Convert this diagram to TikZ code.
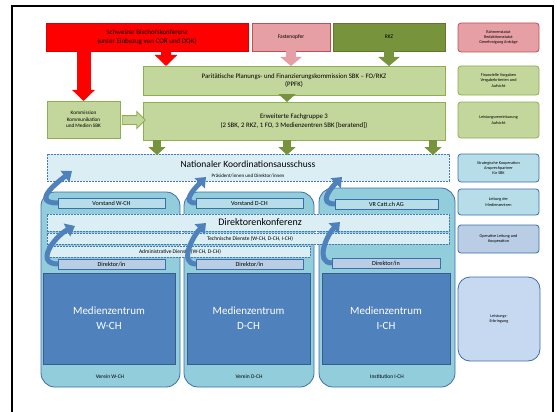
\documentclass[tikz,border=0pt]{standalone}
\usepackage{fontspec}
\setmainfont{Carlito}
\usetikzlibrary{arrows.meta,shapes.arrows}

\definecolor{sbkRed}{RGB}{255,0,0}
\definecolor{foPink}{RGB}{230,160,165}
\definecolor{foPinkLine}{RGB}{190,80,85}
\definecolor{rkzGreen}{RGB}{119,147,60}
\definecolor{paleGreen}{RGB}{195,214,155}
\definecolor{paleGreenLine}{RGB}{140,175,80}
\definecolor{bandBlue}{RGB}{219,238,244}
\definecolor{bandLine}{RGB}{70,120,185}
\definecolor{shellBlue}{RGB}{146,205,220}
\definecolor{shellLine}{RGB}{60,110,170}
\definecolor{boardBlue}{RGB}{183,222,232}
\definecolor{chiefBlue}{RGB}{185,205,229}
\definecolor{medBlue}{RGB}{79,129,189}
\definecolor{medLine}{RGB}{56,93,138}
\definecolor{softBlue}{RGB}{198,217,241}

\tikzstyle{orgChart} = [x = 1pt, y = -1pt, every node/.style={inner sep=0pt, outer sep=0pt, align=center}]
\tikzstyle{redBox} = [fill=sbkRed, draw=sbkRed!85!black, font=\fontsize{7}{9}\selectfont]
\tikzstyle{pinkBox} = [fill=foPink, draw=foPinkLine, font=\fontsize{5.5}{6.5}\selectfont]
\tikzstyle{darkGreenBox} = [fill=rkzGreen, draw=rkzGreen!80!black, font=\fontsize{5.5}{6.5}\selectfont]
\tikzstyle{greenBox} = [fill=paleGreen, draw=paleGreenLine, font=\fontsize{6.8}{8.5}\selectfont]
\tikzstyle{sideBox} = [rounded corners=3pt, thick, font=\fontsize{4.2}{5.4}\selectfont]
\tikzstyle{bandBox} = [fill=bandBlue, draw=bandLine, dash pattern=on 2pt off 1pt, line width=.8pt]
\tikzstyle{shellBox} = [fill=shellBlue, draw=shellLine, rounded corners=14pt, thick]
\tikzstyle{boardBox} = [fill=boardBlue, draw=shellLine, font=\fontsize{6.2}{7}\selectfont]
\tikzstyle{chiefBox} = [fill=chiefBlue, draw=shellLine, font=\fontsize{6.2}{7}\selectfont]
\tikzstyle{centreBox} = [fill=medBlue, draw=medLine, text=white, font=\fontsize{11}{15}\selectfont]
\tikzstyle{redArrow} = [draw=sbkRed, -{Triangle[width=22pt, length=11pt]}]
\tikzstyle{pinkArrow} = [draw=foPink, line width=10pt, -{Triangle[width=21pt, length=9pt]}]
\tikzstyle{greenArrow} = [draw=rkzGreen, line width=8pt, -{Triangle[width=17pt, length=8pt]}]
\tikzstyle{loopArrow} = [draw=medBlue, line width=5pt, -{Triangle[width=14pt, length=9pt]}]

\newcommand{\orgBox}[7]{\node [#1, minimum width={#4-#2}, minimum height={#5-#3}] (#6) at ({(#2+#4)/2}, {(#3+#5)/2}) {#7};}
\newcommand{\orgText}[4]{\node [font=\fontsize{#2}{#2}\selectfont] (#1) at (#3) {#4};}

\begin{document}
\begin{tikzpicture}[orgChart]
  \useasboundingbox (0,0) rectangle (557,412);
  \draw [line width=1.3pt] (12,412) -- (12,6) -- (553,6) -- (553,412);

  % top row
  \orgBox{redBox}{46}{23}{248}{51}{sbk}{Schweizer Bischofskonferenz\\(unter Einbezug von COR und DOK)}
  \orgBox{pinkBox}{252}{23}{330}{51}{fasten}{Fastenopfer}
  \orgBox{darkGreenBox}{333}{23}{445}{51}{rkz}{RKZ}
  \orgBox{pinkBox, sideBox}{458}{23}{539}{52}{sideOne}{Rahmenstatut\\Redaktionsstatut\\Genehmigung Anträge}

  % planning and finance
  \orgBox{greenBox}{143}{66}{445}{95}{ppfk}{Paritätische Planungs- und Finanzierungskommission SBK – FO/RKZ\\(PPFK)}
  \orgBox{greenBox, sideBox}{458}{66}{539}{95}{sideTwo}{Finanzielle Vorgaben\\Vergabekriterien und\\Aufsicht}
  \orgBox{greenBox, font=\fontsize{5.2}{6.5}\selectfont}{47}{101}{120}{138}{komm}{Kommission\\Kommunikation\\und Medien SBK}
  \orgBox{greenBox}{143}{102}{445}{140}{fach}{Erweiterte Fachgruppe 3\\(2 SBK, 2 RKZ, 1 FO, 3 Medienzentren SBK [beratend])}
  \orgBox{greenBox, sideBox}{458}{102}{539}{138}{sideThree}{Leistungsvereinbarung\\Aufsicht}
  \node [single arrow, fill=paleGreen, draw=paleGreenLine, thick, minimum height=23, inner ysep=4pt, inner xsep=0pt, single arrow head extend=4pt] (kommArrow) at (131.5,120) {};

  \coordinate (ppfkRed) at (166,66);
  \coordinate (fachTop) at (287,102);
  \coordinate (natOne) at (157,155);
  \coordinate (natTwo) at (287,155);
  \coordinate (natThree) at (433,155);
  \draw [redArrow, line width=14pt] (sbk.south -| komm.north) -- (komm.north);
  \draw [redArrow, line width=10pt] (sbk.south -| ppfkRed) -- (ppfkRed);
  \draw [pinkArrow] (fasten.south) -- (fasten.south |- ppfk.north);
  \draw [greenArrow, line width=10pt, -{Triangle[width=21pt, length=9pt]}] (rkz.south) -- (rkz.south |- ppfk.north);
  \draw [greenArrow] (ppfk.south -| fachTop) -- (fachTop);

  % national committee
  \orgBox{bandBox}{47}{154}{449}{181}{nat}{}
  \orgText{natTitle}{9.5}{248,164}{Nationaler Koordinationsausschuss}
  \orgText{natSub}{5}{248,175.5}{Präsident/innen und Direktor/innen}
  \draw [greenArrow] (fach.south -| natOne) -- (natOne);
  \draw [greenArrow] (fach.south -| natTwo) -- (natTwo);
  \draw [greenArrow] (fach.south -| natThree) -- (natThree);
  \orgBox{fill=boardBlue, draw=shellLine, sideBox}{458}{154}{539}{182}{sideFour}{Strategische Kooperation\\Ansprechpartner\\für SBK}
  \orgBox{fill=boardBlue, draw=shellLine, sideBox}{458}{189}{539}{215}{sideFive}{Leitung der\\Medienzentren}
  \orgBox{fill=chiefBlue, draw=shellLine, sideBox}{458}{225}{539}{253}{sideSix}{Operative Leitung und\\Kooperation}
  \orgBox{fill=softBlue, draw=shellLine, sideBox, rounded corners=12pt}{458}{277}{540}{361}{sideSeven}{Leistungs-\\Erbringung}

  % three media centres
  \orgBox{shellBox}{41}{192}{180}{387}{shellW}{}
  \orgBox{shellBox}{184}{192}{314}{387}{shellD}{}
  \orgBox{shellBox}{319}{188}{455}{387}{shellI}{}
  \orgText{ownerW}{5.5}{110,377}{Verein W-CH}
  \orgText{ownerD}{5.5}{249,377}{Verein D-CH}
  \orgText{ownerI}{5.5}{387,377}{Institution I-CH}
  \orgBox{boardBox}{58}{198}{165}{208}{vorW}{Vorstand W-CH}
  \orgBox{boardBox}{196}{198}{303}{208}{vorD}{Vorstand D-CH}
  \orgBox{boardBox}{335}{199}{438}{209}{vorI}{VR Catt.ch AG}

  \orgBox{bandBox}{47}{214}{449}{231}{dk}{}
  \orgText{dkTitle}{10}{260,222.5}{Direktorenkonferenz}
  \orgBox{bandBox}{47}{233}{449}{244}{tech}{}
  \orgText{techTitle}{5.5}{250,238.5}{Technische Dienste (W-CH, D-CH, I-CH)}
  \orgBox{bandBox}{47}{246}{310}{257}{admin}{}
  \orgText{adminTitle}{5.5}{180,251.5}{Administrative Dienste (W-CH, D-CH)}

  \orgBox{chiefBox}{58}{259}{165}{269}{dirW}{Direktor/in}
  \orgBox{chiefBox}{196}{259}{303}{269}{dirD}{Direktor/in}
  \orgBox{chiefBox}{332}{258}{440}{268}{dirI}{Direktor/in}
  \orgBox{centreBox}{43}{273}{175}{364}{medW}{Medienzentrum\\W-CH}
  \orgBox{centreBox}{187}{273}{310}{364}{medD}{Medienzentrum\\D-CH}
  \orgBox{centreBox}{322}{273}{450}{364}{medI}{Medienzentrum\\I-CH}

  % loops up to the committees
  \coordinate (natW) at (72,171);
  \coordinate (natD) at (206,177);
  \coordinate (natI) at (342,177);
  \coordinate (dkW) at (75,226);
  \coordinate (dkD) at (206,223);
  \coordinate (dkI) at (340,222);
  \draw [loopArrow] (vorW.west) .. controls +(-26,0) and +(-18,14) .. (natW);
  \draw [loopArrow] (dirW.west) .. controls +(-24,0) and +(-20,10) .. (dkW);
  \draw [loopArrow] (vorD.west) .. controls +(-15,0) and +(-12,12) .. (natD);
  \draw [loopArrow] (dirD.west) .. controls +(-17,0) and +(-14,14) .. (dkD);
  \draw [loopArrow] (vorI.west) .. controls +(-17,0) and +(-12,12) .. (natI);
  \draw [loopArrow] (dirI.west) .. controls +(-17,0) and +(-14,14) .. (dkI);
\end{tikzpicture}
\end{document}
